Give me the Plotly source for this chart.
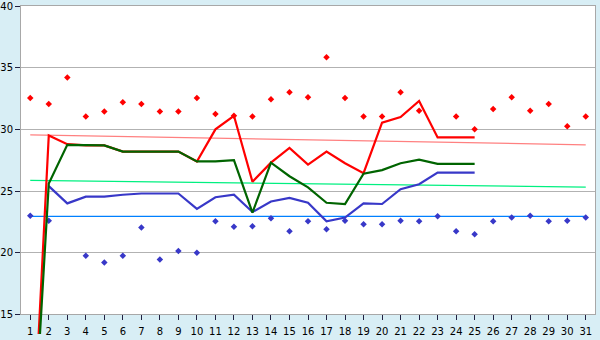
import plotly.graph_objects as go

days = list(range(1, 32))

red_line = [0, 29.5, 28.8, 28.7, 28.7, 28.2, 28.2, 28.2, 28.2, 27.4, 30.0, 31.1, 25.75,
            27.3, 28.5, 27.15, 28.2, 27.25, 26.45, 30.55, 31.0, 32.3, 29.35, 29.35, 29.35]
green_line = [0, 25.6, 28.75, 28.7, 28.7, 28.2, 28.2, 28.2, 28.2, 27.4, 27.4, 27.5, 23.25,
              27.3, 26.2, 25.3, 24.05, 23.95, 26.4, 26.7, 27.25, 27.55, 27.2, 27.2, 27.2]
blue_line = [None, 25.4, 24.0, 24.55, 24.55, 24.7, 24.8, 24.8, 24.8, 23.55, 24.5, 24.7, 23.3,
             24.15, 24.45, 24.05, 22.55, 22.85, 24.0, 23.95, 25.15, 25.55, 26.5, 26.5, 26.5]

red_dots = [32.55, 32.05, 34.2, 31.05, 31.45, 32.2, 32.05, 31.45, 31.45, 32.55, 31.25, 31.1,
            31.05, 32.45, 33.0, 32.6, 35.85, 32.55, 31.05, 31.05, 33.0, 31.5, None, 31.05,
            30.0, 31.65, 32.6, 31.5, 32.05, 30.25, 31.05]
blue_dots = [23.0, 22.6, None, 19.75, 19.2, 19.75, 22.05, 19.45, 20.15, 20.0, 22.55, 22.1,
             22.15, 22.8, 21.75, 22.55, 21.9, 22.6, 22.3, 22.3, 22.6, 22.55, 22.95, 21.75,
             21.5, 22.55, 22.85, 23.0, 22.55, 22.6, 22.85]

trend_days = [1, 31]
red_trend = [29.55, 28.75]
green_trend = [25.87, 25.32]
blue_trend = [22.95, 22.95]

y_ticks = [15, 20, 25, 30, 35, 40]

BG = "#d8eef5"
GRID = "#b2b2b2"

fig = go.Figure()

def line(x, y, color, width, axis="y2"):
    fig.add_trace(go.Scatter(x=x, y=y, mode="lines", yaxis=axis,
                             line=dict(color=color, width=width),
                             connectgaps=False, hoverinfo="skip", showlegend=False))

line(trend_days, red_trend, "#ff8080", 1.2, "y")
line(trend_days, green_trend, "#00f080", 1.2, "y")
line(trend_days, blue_trend, "#0080ff", 1.2, "y")
line(days[:25], red_line, "#ff0000", 2.2)
line(days[:25], blue_line, "#3838c8", 2.2)
line(days[:25], green_line, "#006400", 2.2)

fig.add_trace(go.Scatter(x=days, y=red_dots, mode="markers", yaxis="y",
                         marker=dict(symbol="diamond", size=5, color="#ff0000"),
                         hoverinfo="skip", showlegend=False))
fig.add_trace(go.Scatter(x=days, y=blue_dots, mode="markers", yaxis="y",
                         marker=dict(symbol="diamond", size=5, color="#3838c8"),
                         hoverinfo="skip", showlegend=False))

plot_top = 5
plot_bottom_px = 20  # pixels from page bottom
H = 340
ph = H - plot_top
scale = 315 / 25.0
ybot2 = 15 - plot_bottom_px / scale

fig.update_layout(
    width=600, height=340,
    margin=dict(l=20, r=5, t=plot_top, b=0, pad=0),
    paper_bgcolor=BG,
    plot_bgcolor="rgba(0,0,0,0)",
    font=dict(family="DejaVu Sans", size=10, color="#000000"),
    xaxis=dict(range=[0.5, 31.5], tickmode="array", tickvals=days,
               ticktext=[str(d) for d in days], ticks="outside", ticklen=5,
               tickcolor="#202040", showgrid=False, zeroline=False,
               ticklabelstandoff=3, ticklabeloverflow="allow",
               showline=True, linecolor="#a8a8a8", mirror=True, anchor="y"),
    yaxis=dict(range=[15, 40], tickvals=y_ticks, domain=[plot_bottom_px / ph, 1],
               ticks="outside", ticklen=5, tickcolor="#202040",
               ticklabeloverflow="allow",
               showgrid=True, gridcolor=GRID, gridwidth=1, zeroline=False,
               showline=True, linecolor="#a8a8a8", mirror=True, anchor="x"),
    yaxis2=dict(range=[ybot2, 40], domain=[0, 1], visible=False,
                showgrid=False, zeroline=False, anchor="x"),
    shapes=[dict(type="rect", xref="x domain", yref="y domain", x0=0, x1=1, y0=0, y1=1,
                 fillcolor="#ffffff", line=dict(width=0), layer="below")],
)

fig.write_html("out.html")
